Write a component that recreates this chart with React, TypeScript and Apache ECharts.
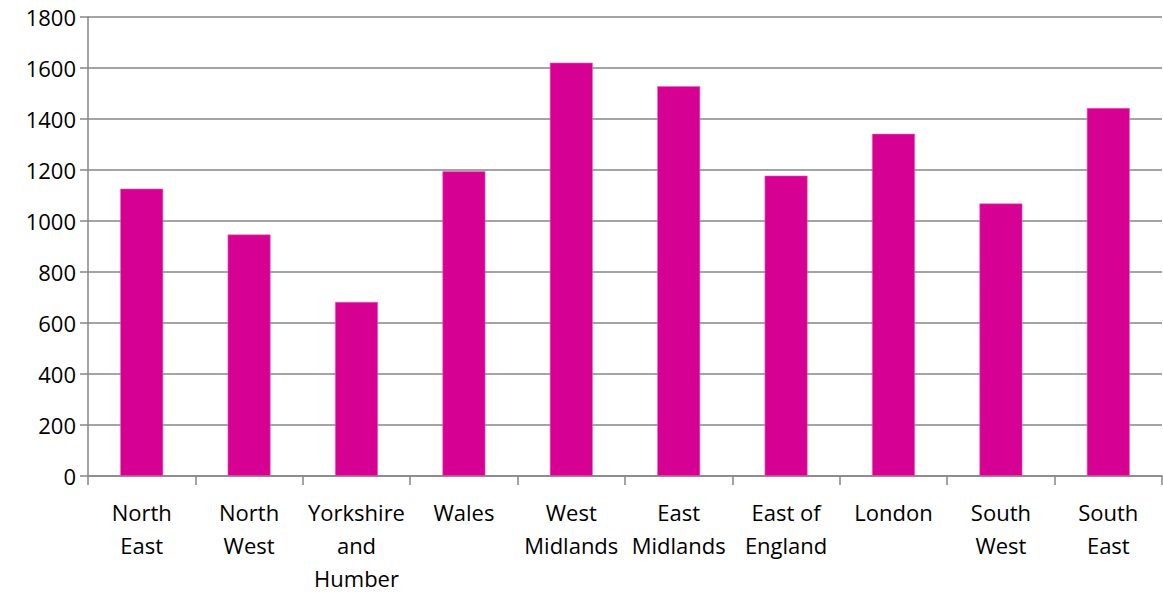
import React, { useEffect, useRef } from "react";
import * as echarts from "echarts";

const categories = [
  "North East",
  "North West",
  "Yorkshire and Humber",
  "Wales",
  "West Midlands",
  "East Midlands",
  "East of England",
  "London",
  "South West",
  "South East",
];

const tickLabels = [
  "North\nEast",
  "North\nWest",
  "Yorkshire\nand\nHumber",
  "Wales",
  "West\nMidlands",
  "East\nMidlands",
  "East of\nEngland",
  "London",
  "South\nWest",
  "South\nEast",
];

const values = [1127, 947, 683, 1195, 1621, 1529, 1178, 1342, 1069, 1443];

const yMin = 0;
const yMax = 1800;
const yStep = 200;

export default function App() {
  const ref = useRef<HTMLDivElement>(null);
  useEffect(() => {
    if (!ref.current) return;
    const chart = echarts.init(ref.current, undefined, { renderer: "svg" });
    const gray = "#868686";
    chart.setOption({
      animation: false,
      backgroundColor: "#ffffff",
      grid: { left: 88, top: 17, width: 1074, height: 467, containLabel: false },
      xAxis: {
        type: "category",
        data: categories,
        axisLine: { show: true, lineStyle: { color: gray, width: 1.5 } },
        axisTick: { show: true, length: 9, lineStyle: { color: gray, width: 1.5 } },
        axisLabel: {
          interval: 0,
          margin: 19,
          color: "#000000",
          fontFamily: "Open Sans",
          fontSize: 22,
          lineHeight: 33,
          formatter: (_v: string, i: number) => tickLabels[i],
        },
        splitLine: { show: false },
      },
      yAxis: {
        type: "value",
        min: yMin,
        max: yMax,
        interval: yStep,
        axisLine: { show: true, lineStyle: { color: gray, width: 1.5 } },
        axisTick: { show: true, length: 8, lineStyle: { color: gray, width: 1.5 } },
        axisLabel: {
          margin: 12,
          color: "#000000",
          fontFamily: "Open Sans",
          fontSize: 22,
          formatter: (v: number) => String(v),
        },
        splitLine: { show: true, lineStyle: { color: gray, width: 1.5 } },
      },
      series: [
        {
          type: "bar",
          data: values,
          barCategoryGap: "60%",
          itemStyle: { color: "#D60093", borderColor: "#E66AB9", borderWidth: 0.6 },
        },
      ],
    });
    return () => chart.dispose();
  }, []);
  return (
    <div
      ref={ref}
      style={{ position: "fixed", left: 0, top: 0, width: 1163, height: 594 }}
    />
  );
}
